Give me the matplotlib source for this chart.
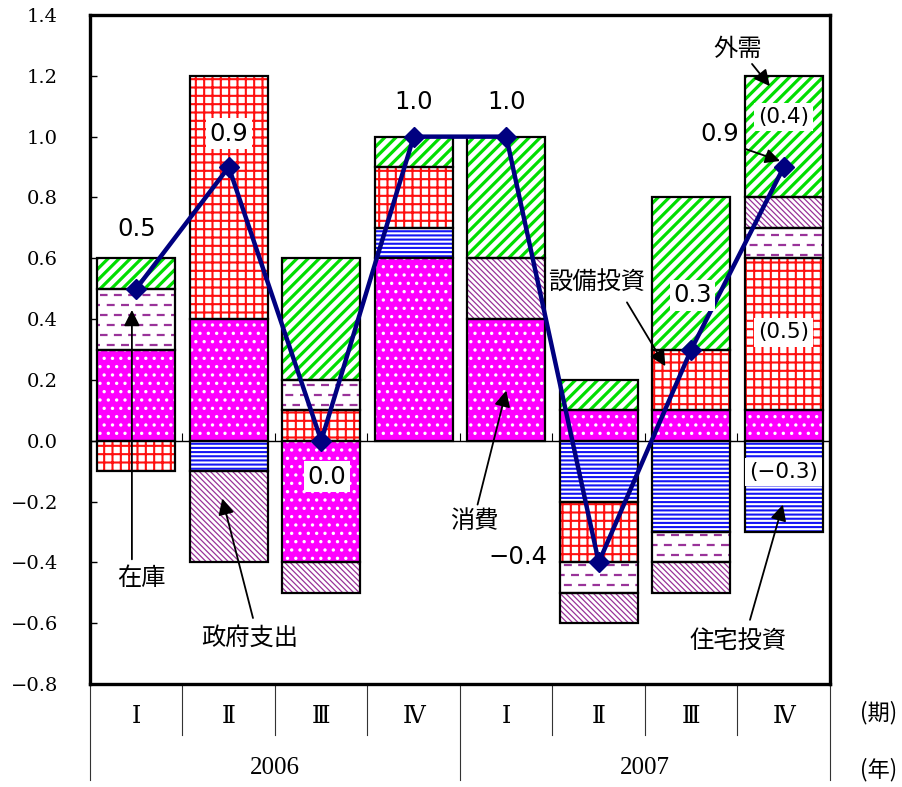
import numpy as np
import matplotlib
matplotlib.use('Agg')
import matplotlib.pyplot as plt
import matplotlib.transforms as mtransforms
from matplotlib import hatch as mhatch

# ---- data -------------------------------------------------------------
quarters = ['Ⅰ', 'Ⅱ', 'Ⅲ', 'Ⅳ', 'Ⅰ', 'Ⅱ', 'Ⅲ', 'Ⅳ']
years = ['2006', '2007']
consumption = [0.3, 0.4, -0.4, 0.6, 0.4, 0.1, 0.1, 0.1]
housing = [0.0, -0.1, 0.0, 0.1, 0.0, -0.2, -0.3, -0.3]
equipment = [-0.1, 0.8, 0.1, 0.2, 0.0, -0.2, 0.2, 0.5]
inventory = [0.2, 0.0, 0.1, 0.0, 0.0, -0.1, -0.1, 0.1]
government = [0.0, -0.3, -0.1, 0.0, 0.2, -0.1, -0.1, 0.1]
external = [0.1, 0.0, 0.4, 0.1, 0.4, 0.1, 0.5, 0.4]
gdp_growth = [0.5, 0.9, 0.0, 1.0, 1.0, -0.4, 0.3, 0.9]
component_names = ['消費', '住宅投資', '設備投資', '在庫', '政府支出', '外需']
y_ticks = [-0.8, -0.6, -0.4, -0.2, 0.0, 0.2, 0.4, 0.6, 0.8, 1.0, 1.2, 1.4]


# ---- a dashed-row hatch (takes the place of the 'O' pattern) -----------
class DashRows(mhatch.HatchPatternBase):
    def __init__(self, hatch, density):
        n = hatch.count('O')
        self.rows = 10 * n
        self.cols = 7 * n
        self.num_vertices = self.rows * self.cols * 2

    def set_vertices_and_codes(self, vertices, codes):
        k = 0
        for r in range(self.rows):
            y = (r + 0.5) / self.rows
            off = 0.55 if r % 2 else 0.05
            for c in range(self.cols):
                vertices[k] = ((c + off) / self.cols, y)
                vertices[k + 1] = ((c + off + 0.4) / self.cols, y)
                codes[k] = mhatch.Path.MOVETO
                codes[k + 1] = mhatch.Path.LINETO
                k += 2


mhatch._hatch_types[mhatch._hatch_types.index(mhatch.LargeCircles)] = DashRows

BACK = chr(92)
# face colour, hatch colour, hatch pattern, hatch line width
styles = [
    ('#FF00FF', 'white', '..', 1.2),
    ('white', '#1515F5', '----', 1.5),
    ('white', '#FF1010', '++', 1.5),
    ('white', '#993399', 'O', 1.6),
    ('white', '#993399', BACK * 6, 0.9),
    ('white', '#00DD00', '///', 2.3),
]

CJK = ['Noto Sans CJK JP', 'DejaVu Sans']
plt.rcParams['font.family'] = CJK
plt.rcParams['axes.unicode_minus'] = True

fig = plt.figure(figsize=(9.03, 7.87), dpi=100)
ax = fig.add_axes([90 / 903, 1 - 684 / 787, 740 / 903, 669 / 787])

x = np.arange(len(quarters))
series = [consumption, housing, equipment, inventory, government, external]
pos_base = np.zeros(len(x))
neg_base = np.zeros(len(x))
width = 0.84
for vals, (face, hcol, hpat, hlw) in zip(series, styles):
    vals = np.asarray(vals, dtype=float)
    bottoms = np.where(vals >= 0, pos_base, neg_base)
    mask = np.abs(vals) > 1e-9
    with plt.rc_context({'hatch.linewidth': hlw}):
        bars = ax.bar(x[mask], vals[mask], bottom=bottoms[mask], width=width,
                      color=face, edgecolor=hcol, hatch=hpat, linewidth=0,
                      zorder=2)
        for b in bars:
            if hasattr(b, 'set_hatch_linewidth'):
                b.set_hatch_linewidth(hlw)
    ax.bar(x[mask], vals[mask], bottom=bottoms[mask], width=width,
           facecolor='none', edgecolor='black', linewidth=1.6, zorder=3)
    pos_base = pos_base + np.where(vals > 0, vals, 0)
    neg_base = neg_base + np.where(vals < 0, vals, 0)

# zero line and category ticks on it
ax.axhline(0, color='black', lw=1.0, zorder=1)
ax.vlines(x[:-1] + 0.5, 0, 0.025, color='black', lw=0.8, zorder=1)

# real GDP growth line
ax.plot(x, gdp_growth, color='#000080', lw=3.2, marker='D', ms=10,
        zorder=6, solid_joinstyle='miter')

ax.set_xlim(-0.5, len(x) - 0.5)
ax.set_ylim(-0.8, 1.4)
ax.set_yticks(y_ticks)
ax.set_yticklabels([f'{v:.1f}'.replace('-', '\u2212') for v in y_ticks])
for t in ax.get_yticklabels():
    t.set_fontfamily(['DejaVu Serif'])
    t.set_fontsize(14)
ax.tick_params(axis='y', direction='in', length=5, width=1, pad=23)
ax.set_xticks([])
for s in ax.spines.values():
    s.set_linewidth(2.4)

# value labels on the GDP points
num_font = dict(family='DejaVu Sans', fontsize=17.5)
box = dict(facecolor='white', edgecolor='none', pad=2.5)
offsets = [(0, 43), (0, 24), (4, -26), (0, 25), (0, 25), (-58, 4), (1, 39), (-46, 24)]
boxed = [False, True, True, False, False, False, True, False]
for i, (v, off, bx) in enumerate(zip(gdp_growth, offsets, boxed)):
    txt = f'{v:.1f}'.replace('-', '\u2212')
    ax.annotate(txt, (x[i], v), xytext=off, textcoords='offset points',
                ha='center', va='center', zorder=8,
                bbox=box if bx else None, **num_font)
ax.annotate('', xy=(x[7] - 0.04, gdp_growth[7] + 0.02),
            xytext=(6.58, 0.96),
            arrowprops=dict(arrowstyle='-|>', color='black', lw=1.3,
                            mutation_scale=22, shrinkA=0, shrinkB=0), zorder=9)

# component values in the last quarter
small_font = dict(family='DejaVu Sans', fontsize=15.5)
last = len(x) - 1
for vals, ypos in [(external, 1.064), (equipment, 0.356), (housing, -0.102)]:
    txt = '(' + f'{vals[last]:.1f}'.replace('-', '\u2212') + ')'
    ax.text(x[last], ypos, txt, ha='center', va='center', zorder=8,
            bbox=dict(facecolor='white', edgecolor='none', pad=3), **small_font)

# component names with pointing arrows
cjk_font = dict(family=CJK, fontsize=17.5)
arrow_kw = dict(arrowstyle='-|>', color='black', lw=1.3, mutation_scale=24,
                shrinkA=0, shrinkB=0)
name_spots = {
    '在庫': ((0.06, -0.451), (-0.047, -0.39), (-0.047, 0.43)),
    '政府支出': ((1.23, -0.648), (1.262, -0.583), (0.93, -0.19)),
    '消費': ((3.66, -0.263), (3.69, -0.21), (4.0, 0.165)),
    '設備投資': ((4.98, 0.521), (5.305, 0.455), (5.72, 0.245)),
    '外需': ((6.505, 1.288), (6.657, 1.239), (6.85, 1.166)),
    '住宅投資': ((6.505, -0.658), (6.635, -0.589), (6.99, -0.21)),
}
for name in component_names:
    (tx, ty), tail, head = name_spots[name]
    ax.text(tx, ty, name, ha='center', va='center', zorder=8, **cjk_font)
    ax.annotate('', xy=head, xytext=tail, arrowprops=arrow_kw, zorder=9)

# category table under the plot
trans = mtransforms.blended_transform_factory(ax.transData, ax.transAxes)
line_kw = dict(color='#333333', lw=0.8, clip_on=False, transform=trans)
for i in range(1, len(x)):
    if i % 4:
        ax.plot([i - 0.5, i - 0.5], [0, -0.076], **line_kw)
for xb in (-0.5, 3.5, 7.5):
    ax.plot([xb, xb], [0, -0.1435], **line_kw)
for i, q in enumerate(quarters):
    ax.text(x[i], -0.049, q, transform=trans, ha='center', va='center',
            family=['DejaVu Serif', 'DejaVu Sans', 'Noto Sans CJK JP'],
            fontsize=17)
for j, yr in enumerate(years):
    ax.text(1.5 + 4 * j, -0.126, yr, transform=trans, ha='center',
            va='center', family='Liberation Serif', fontsize=18)
ax.text(8.02, -0.042, '(期)', transform=trans, ha='center', va='center',
        family=CJK, fontsize=16)
ax.text(8.02, -0.128, '(年)', transform=trans, ha='center', va='center',
        family=CJK, fontsize=16)

fig.savefig('out.png', dpi=100)
